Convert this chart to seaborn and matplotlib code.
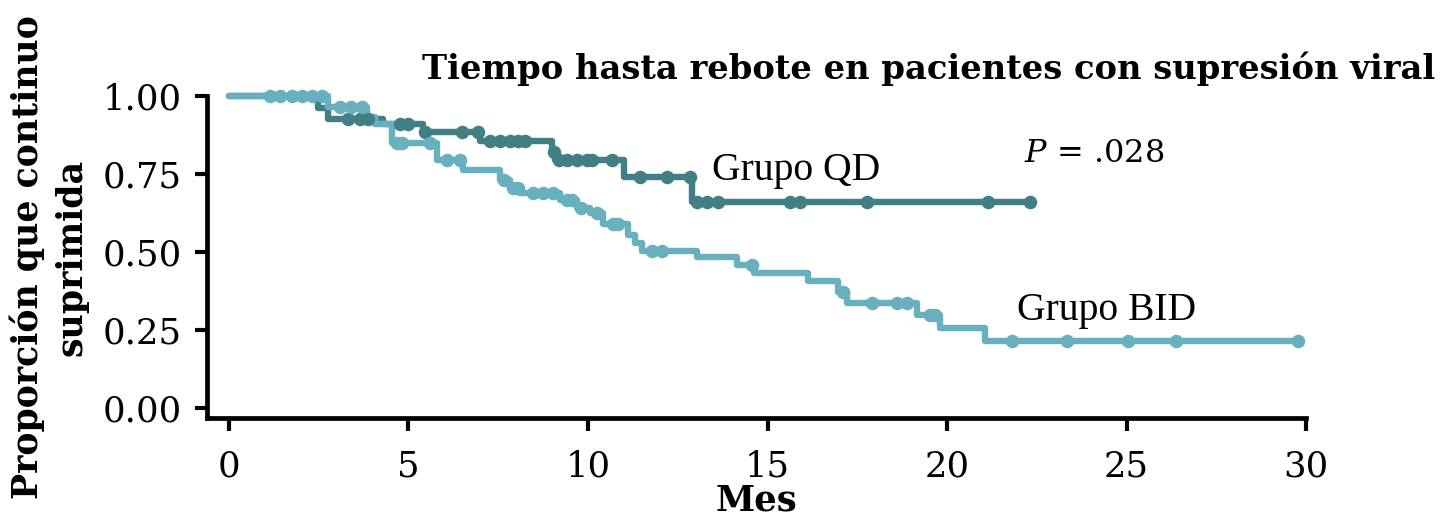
import numpy as np
import pandas as pd
import matplotlib
matplotlib.use("Agg")
import matplotlib.pyplot as plt
import seaborn as sns

# Kaplan-Meier step estimates (month, proportion still suppressed)
qd_mes = [0.0, 2.48, 2.75, 4.30, 5.40, 7.00, 9.00, 9.08, 11.00, 12.90, 22.31]
qd_prop = [1.000, 0.962, 0.925, 0.910, 0.885, 0.856, 0.820, 0.795, 0.740, 0.660, 0.660]
qd_censura = [3.31, 3.65, 3.87, 4.76, 4.99, 5.46, 6.49, 6.94, 7.27, 7.55, 7.83,
              8.05, 8.25, 9.04, 9.20, 9.42, 9.69, 9.97, 10.11, 10.67, 11.45,
              12.20, 12.84, 13.04, 13.31, 13.62, 15.63, 15.90, 17.77, 21.14, 22.31]

bid_mes = [0.0, 2.76, 3.84, 4.07, 4.54, 5.79, 6.52, 7.55, 7.83, 8.10, 9.22, 9.69,
           10.06, 10.42, 11.11, 11.30, 11.50, 13.04, 14.15, 14.62, 16.13, 16.96,
           17.21, 19.16, 19.80, 21.06, 29.78]
bid_prop = [1.000, 0.965, 0.933, 0.910, 0.850, 0.795, 0.763, 0.730, 0.705, 0.690,
            0.667, 0.641, 0.625, 0.590, 0.555, 0.530, 0.503, 0.484, 0.458, 0.433,
            0.407, 0.372, 0.337, 0.298, 0.256, 0.215, 0.215]
bid_censura = [1.14, 1.42, 1.75, 2.03, 2.31, 2.59, 3.10, 3.40, 3.70, 4.68, 4.82,
               5.60, 6.07, 6.43, 7.65, 7.90, 8.05, 8.47, 8.75, 9.03, 9.42, 9.55,
               9.80, 10.25, 10.70, 10.84, 11.78, 12.06, 14.57, 17.10, 17.91,
               18.61, 18.89, 19.53, 19.67, 21.81, 23.34, 25.04, 26.38, 29.78]

grupos = ["Grupo QD", "Grupo BID"]
colores = {"Grupo QD": "#427f84", "Grupo BID": "#69b0be"}

x_ticks = [0, 5, 10, 15, 20, 25, 30]
y_ticks = [0.00, 0.25, 0.50, 0.75, 1.00]


def escalones(mes, prop, grupo):
    return pd.DataFrame({"mes": mes, "prop": prop, "grupo": grupo})


def censuras(tiempos, mes, prop, grupo):
    idx = np.searchsorted(mes, tiempos, side="right") - 1
    return pd.DataFrame({"mes": tiempos, "prop": np.asarray(prop)[idx], "grupo": grupo})


curvas = pd.concat([escalones(qd_mes, qd_prop, "Grupo QD"),
                    escalones(bid_mes, bid_prop, "Grupo BID")], ignore_index=True)
marcas = pd.concat([censuras(qd_censura, qd_mes, qd_prop, "Grupo QD"),
                    censuras(bid_censura, bid_mes, bid_prop, "Grupo BID")], ignore_index=True)

sns.set_theme(style="ticks")
plt.rcParams["font.family"] = ["DejaVu Serif"]
plt.rcParams["mathtext.fontset"] = "dejavuserif"
plt.rcParams["text.color"] = "black"
plt.rcParams["axes.labelcolor"] = "black"

fig = plt.figure(figsize=(14.43, 5.19), dpi=100)
ax = fig.add_axes([0.1435, 0.1946, 0.7616, 0.6204])

for g in grupos:
    sns.lineplot(data=curvas[curvas.grupo == g], x="mes", y="prop", color=colores[g],
                 drawstyle="steps-post", linewidth=4.6, estimator=None, sort=False,
                 legend=False, clip_on=False, ax=ax)
    sns.scatterplot(data=marcas[marcas.grupo == g], x="mes", y="prop", color=colores[g],
                    s=95, linewidth=0, legend=False, clip_on=False, zorder=3, ax=ax)

ax.set_xlim(-0.61, 30)
ax.set_ylim(-0.032, 1.0)
ax.set_xticks(x_ticks)
ax.set_xticklabels([str(v) for v in x_ticks])
ax.set_yticks(y_ticks)
ax.set_yticklabels([f"{v:.2f}" for v in y_ticks])

sns.despine(ax=ax)
for s in ("left", "bottom"):
    ax.spines[s].set_linewidth(3.4)
    ax.spines[s].set_color("black")
ax.tick_params(axis="both", direction="out", length=9, width=3, colors="black",
               labelsize=25.5)
ax.tick_params(axis="y", pad=9)
ax.tick_params(axis="x", pad=14)

ax.set_xlabel("Mes", fontsize=25.5, fontweight="bold", labelpad=0)
ax.set_ylabel("Proporción que continuo\nsuprimida", fontsize=25, fontweight="bold",
              linespacing=1.35, labelpad=10)

ax.text(13.45, 0.73, "Grupo QD", fontsize=28.5, family="Liberation Serif")
ax.text(21.95, 0.283, "Grupo BID", fontsize=28.5, family="Liberation Serif")
ax.text(22.15, 0.79, "$P$ = .028", fontsize=23)

fig.text(0.9945, 0.868, "Tiempo hasta rebote en pacientes con supresión viral",
         ha="right", va="center", fontsize=24.3, fontweight="bold")

fig.savefig("out.png", dpi=100)
